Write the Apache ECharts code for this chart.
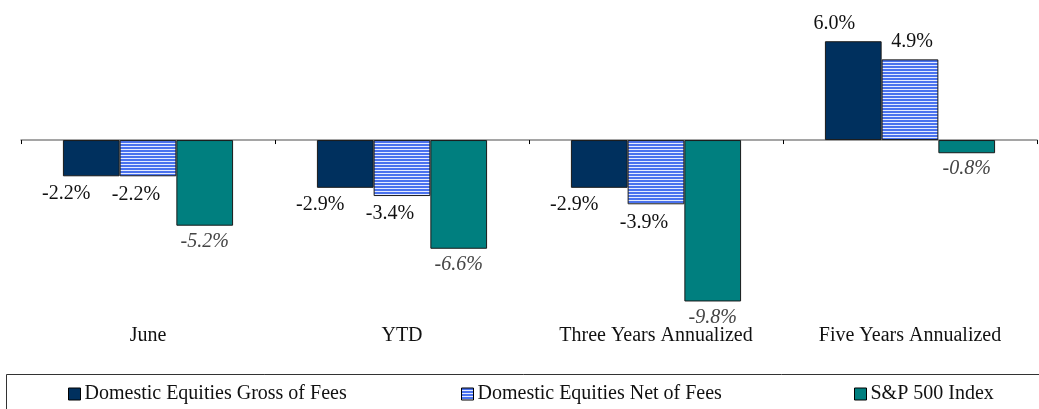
<!DOCTYPE html>
<html>
<head>
<meta charset="utf-8">
<script src="https://cdn.jsdelivr.net/npm/echarts@6/dist/echarts.min.js"></script>
<style>
  html, body { margin: 0; padding: 0; background: #fff; }
  #main { width: 1039px; height: 409px; }
</style>
</head>
<body>
<div id="main"></div>
<script>
// chart data
var categories = ['June', 'YTD', 'Three Years Annualized', 'Five Years Annualized'];
var seriesNames = ['Domestic Equities Gross of Fees', 'Domestic Equities Net of Fees', 'S&P 500 Index'];
var grossValues = [-2.2, -2.9, -2.9, 6.0];
var netValues = [-2.2, -3.4, -3.9, 4.9];
var spValues = [-5.2, -6.6, -9.8, -0.8];

var serifFont = '"Liberation Serif", "DejaVu Serif", serif';

// horizontal blue stripes for the net-of-fees bars
function stripePattern() {
  var c = document.createElement('canvas');
  c.width = 4;
  c.height = 3;
  var ctx = c.getContext('2d');
  ctx.fillStyle = '#e4ebff';
  ctx.fillRect(0, 0, 4, 3);
  ctx.fillStyle = '#4a72ee';
  ctx.fillRect(0, 0, 4, 2);
  return { image: c, repeat: 'repeat' };
}

var myChart = echarts.init(document.getElementById('main'));

// label sits left of the bar when negative, a bit differently when positive
function buildData(values, dxNeg, dxPos, color, italic) {
  return values.map(function (v) {
    return {
      value: v,
      label: {
        position: v >= 0 ? 'top' : 'bottom',
        offset: [v >= 0 ? dxPos : dxNeg, 0],
        color: color,
        fontStyle: italic ? 'italic' : 'normal'
      }
    };
  });
}

function barLabel(dist) {
  return {
    show: true,
    distance: dist,
    fontFamily: serifFont,
    fontSize: 20,
    formatter: function (p) { return p.value.toFixed(1) + '%'; }
  };
}

function legendAt(left, name) {
  return {
    data: [name],
    left: left,
    top: 384,
    padding: 0,
    itemWidth: 12,
    itemHeight: 12,
    icon: 'rect',
    itemStyle: { borderColor: '#000', borderWidth: 1 },
    textStyle: { fontFamily: serifFont, fontSize: 20, color: '#111', padding: [0, 0, 0, -1] }
  };
}

const option = {
  backgroundColor: '#fff',
  animation: false,
  grid: { left: 21, right: 2, top: 33, height: 280 },
  legend: [
    legendAt(68, seriesNames[0]),
    legendAt(461, seriesNames[1]),
    legendAt(854, seriesNames[2])
  ],
  graphic: [{
    type: 'rect',
    shape: { x: 6.5, y: 374.5, width: 1040, height: 40 },
    style: { fill: 'none', stroke: '#333', lineWidth: 1 }
  }],
  xAxis: [{
    type: 'category',
    data: categories,
    axisLine: { onZero: true, lineStyle: { color: '#888', width: 1.5 } },
    axisTick: { show: true, length: 4, lineStyle: { color: '#000' } },
    axisLabel: { show: false },
    splitLine: { show: false }
  }, {
    type: 'category',
    data: categories,
    position: 'bottom',
    axisLine: { show: false, onZero: false },
    axisTick: { show: false },
    axisLabel: { interval: 0, margin: 13, fontFamily: serifFont, fontSize: 20, color: '#111' }
  }],
  yAxis: {
    type: 'value',
    min: -10.5,
    max: 6.5,
    show: false,
    splitLine: { show: false }
  },
  series: [{
    name: seriesNames[0],
    type: 'bar',
    barGap: 0,
    barCategoryGap: '33%',
    itemStyle: { color: '#00305e', borderColor: '#1a1a1a', borderWidth: 1 },
    label: barLabel(7),
    data: buildData(grossValues, -25, -19, '#111', false)
  }, {
    name: seriesNames[1],
    type: 'bar',
    barGap: 0,
    barCategoryGap: '33%',
    itemStyle: { color: stripePattern(), borderColor: '#1a1a1a', borderWidth: 1 },
    label: barLabel(8),
    data: buildData(netValues, -12, 2, '#111', false)
  }, {
    name: seriesNames[2],
    type: 'bar',
    barGap: 0,
    barCategoryGap: '33%',
    itemStyle: { color: '#007f7f', borderColor: '#1a1a1a', borderWidth: 1 },
    label: barLabel(6),
    data: buildData(spValues, 0, 0, '#444', true)
  }]
};

myChart.setOption(option);
</script>
</body>
</html>
